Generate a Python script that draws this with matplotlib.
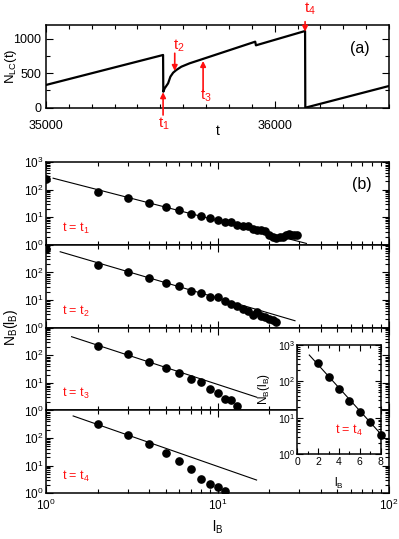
import matplotlib
matplotlib.use('Agg')
import matplotlib.pyplot as plt
import numpy as np
from matplotlib.ticker import MultipleLocator, FixedLocator, FuncFormatter, NullFormatter, LogLocator

plt.rcParams['font.family'] = ['Liberation Sans', 'DejaVu Sans']
plt.rcParams['mathtext.fontset'] = 'custom'
plt.rcParams['mathtext.rm'] = 'Liberation Sans'
plt.rcParams['mathtext.it'] = 'Liberation Sans:italic'
plt.rcParams['mathtext.default'] = 'regular'

# ---------------- data: panel (a) ----------------
t_series = [35000, 35512, 35513, 35519, 35534, 35544, 35556, 35570, 35592, 35628,
            35672, 35915, 35918, 36133, 36134, 36500]
NLC_series = [330, 765, 232, 281, 354, 450, 508, 547, 595, 644,
              692, 958, 905, 1113, 0, 315]
t_marks = [35512, 35563, 35687, 36133]
t_mark_names = ['t$_1$', 't$_2$', 't$_3$', 't$_4$']

# ---------------- data: panel (b) ----------------
lB_1 = list(range(1, 30))
NB_1 = [244, 85, 48, 32, 23.6, 18.3, 13.5, 11.1, 9.1, 8.0, 6.9, 6.8, 5.1, 5.0, 4.7,
        3.9, 3.5, 3.5, 3.3, 2.3, 2.0, 1.8, 1.9, 2.0, 2.3, 2.4, 2.3, 2.3, 2.2]
lB_2 = list(range(1, 23))
NB_2 = [680, 185, 100, 65, 43, 31, 21.5, 18.6, 13, 12.4, 9.3, 7.2, 6.2, 4.7, 4.1,
        2.9, 3.6, 2.6, 2.4, 2.05, 1.9, 1.66]
lB_3 = list(range(2, 14))
NB_3 = [218, 110, 59, 36, 22, 13.5, 11, 5.9, 4.4, 2.7, 2.4, 1.4]
lB_4 = list(range(2, 12))
NB_4 = [316, 129, 61, 29.5, 14.8, 7.6, 3.3, 2.2, 1.74, 1.24]

# power-law guide lines: log10 N = logA - slope*log10(l)
fit_logA = [2.48, 2.90, 2.975, 3.145]
fit_slope = [1.60, 1.825, 2.03, 2.17]
fit_lmin = [1.1, 1.21, 1.41, 1.44]
fit_lmax = [33, 28.3, 16.9, 16.9]

# inset (t = t4, semi-log): exponential guide log10 N = logA - k*l
inset_n = 7
inset_logA = 3.088
inset_k = 0.316
inset_lrange = [1.15, 8.5]

panel_names = ['t = t$_1$', 't = t$_2$', 't = t$_3$', 't = t$_4$']

RED = '#ff1010'
W, H = 399, 539
fig = plt.figure(figsize=(W / 100, H / 100), dpi=100)


def fx(px):
    return px / W


def fy(py):
    return 1 - py / H


def style_ticks(ax, major=5, minor=3, labelsize=9):
    ax.tick_params(which='both', direction='in', top=True, right=True, width=0.8,
                   labelsize=labelsize)
    ax.tick_params(which='major', length=major)
    ax.tick_params(which='minor', length=minor)
    for s in ax.spines.values():
        s.set_linewidth(1.1)


# ---------------- panel (a) ----------------
axa = fig.add_axes([fx(46), fy(107.7), fx(389 - 46), (107.7 - 25) / H])
axa.plot(t_series, NLC_series, color='black', lw=1.6)
axa.set_xlim(35000, 36500)
axa.set_ylim(0, 1200)
axa.xaxis.set_major_locator(MultipleLocator(1000))
axa.xaxis.set_minor_locator(MultipleLocator(100))
axa.yaxis.set_major_locator(MultipleLocator(500))
axa.yaxis.set_minor_locator(MultipleLocator(250))
style_ticks(axa, major=5, minor=3, labelsize=9)
axa.tick_params(axis='x', which='major', pad=8.5)
axa.set_ylabel('N$_{LC}$(t)', fontsize=9.5)
axa.yaxis.set_label_coords(-0.08, 0.5)
axa.set_xlabel('t', fontsize=10)
axa.xaxis.set_label_coords(0.5, -0.2)
axa.text(0.915, 0.72, '(a)', transform=axa.transAxes, fontsize=11.5,
         ha='center', va='center')

# arrows (tail, tip) and labels in data units
arrow_tail = [-106, 790, 232, 1248]
arrow_tip = [225, 533, 678, 1103]
label_t = [35514, 35580, 35698, 36156]
label_N = [-235, 895, 170, 1432]
for tm, tail, tip, lt, ln, name in zip(t_marks, arrow_tail, arrow_tip, label_t, label_N,
                                       t_mark_names):
    axa.annotate('', xy=(tm, tip), xytext=(tm, tail),
                 arrowprops=dict(arrowstyle='-|>', color=RED, lw=1.2, mutation_scale=8,
                                 shrinkA=0, shrinkB=0),
                 annotation_clip=False)
    axa.text(lt, ln, name, color=RED, fontsize=11, ha='center', va='center',
             clip_on=False)

# ---------------- panel (b) ----------------
top_px = 162.0
bot_px = 493.3
ph = (bot_px - top_px) / 4
lB_all = [lB_1, lB_2, lB_3, lB_4]
NB_all = [NB_1, NB_2, NB_3, NB_4]
axes_b = []
for i in range(4):
    y0 = top_px + (i + 1) * ph
    ax = fig.add_axes([fx(46), fy(y0), fx(389 - 46), ph / H])
    axes_b.append(ax)
    ax.set_xscale('log')
    ax.set_yscale('log')
    ax.set_xlim(1, 100)
    ax.set_ylim(1, 1000)
    ax.plot(lB_all[i], NB_all[i], 'o', color='black', ms=5.2, zorder=3)
    lfit = np.array([fit_lmin[i], fit_lmax[i]])
    ax.plot(lfit, 10 ** (fit_logA[i] - fit_slope[i] * np.log10(lfit)),
            color='black', lw=0.8, zorder=2)
    ax.yaxis.set_major_locator(FixedLocator([1, 10, 100, 1000]))
    ax.yaxis.set_minor_locator(LogLocator(base=10, subs=np.arange(2, 10), numticks=20))
    ax.yaxis.set_minor_formatter(NullFormatter())
    if i > 0:
        ax.yaxis.set_major_formatter(FuncFormatter(
            lambda v, p: '' if v > 500 else r'$10^{%d}$' % round(np.log10(v))))
    else:
        ax.yaxis.set_major_formatter(FuncFormatter(
            lambda v, p: r'$10^{%d}$' % round(np.log10(v))))
    ax.xaxis.set_major_formatter(FuncFormatter(
        lambda v, p: r'$10^{%d}$' % round(np.log10(v))))
    ax.xaxis.set_minor_formatter(NullFormatter())
    style_ticks(ax, major=5, minor=3, labelsize=8.5)
    ax.tick_params(axis='y', which='major', pad=2)
    if i < 3:
        ax.tick_params(axis='x', which='both', labelbottom=False)
    ax.text(0.047, 0.2, panel_names[i], transform=ax.transAxes, color=RED,
            fontsize=9, ha='left', va='center')

axes_b[0].text(0.92, 0.73, '(b)', transform=axes_b[0].transAxes, fontsize=11.5,
               ha='center', va='center')
axes_b[3].set_xlabel('l$_B$', fontsize=10)
axes_b[3].xaxis.set_label_coords(0.5, -0.31)
fig.text(fx(11), fy((top_px + bot_px) / 2), 'N$_B$(l$_B$)', rotation=90, fontsize=10,
         ha='center', va='center')

# ---------------- inset ----------------
axi = fig.add_axes([fx(297.3), fy(454.3), fx(380.7 - 297.3), (454.3 - 345) / H])
axi.set_facecolor('white')
axi.set_zorder(10)
axi.set_yscale('log')
axi.set_xlim(0, 8)
axi.set_ylim(1, 1000)
axi.plot(lB_4[:inset_n], NB_4[:inset_n], 'o', color='black', ms=5.2, zorder=3,
         clip_on=False)
li = np.array(inset_lrange)
axi.plot(li, 10 ** (inset_logA - inset_k * li), color='black', lw=0.8)
axi.xaxis.set_major_locator(MultipleLocator(2))
axi.xaxis.set_minor_locator(MultipleLocator(1))
axi.yaxis.set_major_locator(FixedLocator([1, 10, 100, 1000]))
axi.yaxis.set_minor_locator(LogLocator(base=10, subs=np.arange(2, 10), numticks=20))
axi.yaxis.set_minor_formatter(NullFormatter())
axi.yaxis.set_major_formatter(FuncFormatter(
    lambda v, p: r'$10^{%d}$' % round(np.log10(v))))
style_ticks(axi, major=4, minor=2.5, labelsize=7.5)
axi.tick_params(axis='y', which='major', pad=1.5)
axi.tick_params(axis='x', which='major', pad=2)
axi.set_xlabel('l$_B$', fontsize=8.5)
axi.xaxis.set_label_coords(0.5, -0.2)
axi.set_ylabel('N$_B$(l$_B$)', fontsize=8.5)
axi.yaxis.set_label_coords(-0.3, 0.6)
axi.text(0.45, 0.22, 't = t$_4$', transform=axi.transAxes, color=RED, fontsize=9,
         ha='left', va='center')

fig.savefig('out.png', dpi=100)
